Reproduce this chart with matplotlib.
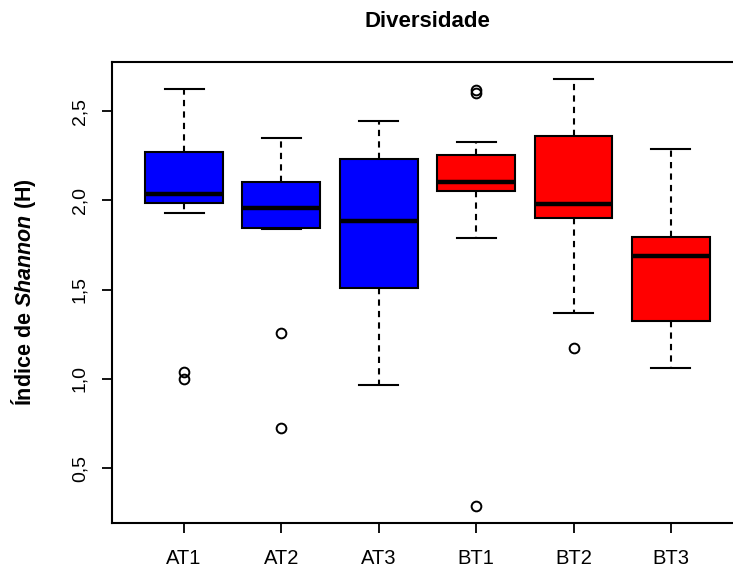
import matplotlib
matplotlib.use("Agg")
import matplotlib.pyplot as plt

# boxplot stats (R-style boxplot)
categories = ["AT1", "AT2", "AT3", "BT1", "BT2", "BT3"]
whislo = [1.93, 1.84, 0.965, 1.788, 1.368, 1.059]
q1 = [1.985, 1.844, 1.507, 2.052, 1.903, 1.325]
med = [2.038, 1.957, 1.884, 2.10, 1.981, 1.687]
q3 = [2.27, 2.10, 2.234, 2.253, 2.36, 1.794]
whishi = [2.626, 2.347, 2.446, 2.324, 2.678, 2.285]
outliers = [[1.04, 1.0], [1.255, 0.726], [], [2.62, 2.60, 0.287], [1.171], []]
box_colors = ["#0000FF", "#0000FF", "#0000FF", "#FF0000", "#FF0000", "#FF0000"]

yticks = [0.5, 1.0, 1.5, 2.0, 2.5]
ytick_labels = ["0,5", "1,0", "1,5", "2,0", "2,5"]

plt.rcParams["font.family"] = ["Liberation Sans", "DejaVu Sans"]
plt.rcParams["mathtext.fontset"] = "custom"
plt.rcParams["mathtext.it"] = "Liberation Sans:italic:bold"
plt.rcParams["mathtext.rm"] = "Liberation Sans:bold"

fig = plt.figure(figsize=(7.33, 5.72), dpi=100)
# right edge of the frame falls outside the picture, as in the reference
ax = fig.add_axes([0.1528, 0.0857, 0.8608, 0.8059])

stats = []
for i, name in enumerate(categories):
    stats.append({
        "label": name, "whislo": whislo[i], "q1": q1[i], "med": med[i],
        "q3": q3[i], "whishi": whishi[i], "fliers": outliers[i],
    })

positions = list(range(1, len(categories) + 1))
bp = ax.bxp(stats, positions=positions, widths=0.8, capwidths=0.4,
            patch_artist=True, showfliers=True,
            boxprops=dict(edgecolor="black", linewidth=1.5),
            medianprops=dict(color="black", linewidth=3.2, solid_capstyle="butt"),
            whiskerprops=dict(color="black", linewidth=1.5, linestyle=(0, (3, 2.5))),
            capprops=dict(color="black", linewidth=1.5),
            flierprops=dict(marker="o", markerfacecolor="none",
                            markeredgecolor="black", markersize=7,
                            markeredgewidth=1.4, linestyle="none"))
for patch, c in zip(bp["boxes"], box_colors):
    patch.set_facecolor(c)

ax.set_xlim(0.26, 6.74)
ax.set_ylim(0.192, 2.775)
ax.set_yticks(yticks)
ax.set_yticklabels(ytick_labels, rotation=90, va="center")
ax.set_xticks(positions)
ax.set_xticklabels(categories)

ax.tick_params(axis="both", direction="out", length=7.5, width=1.3,
               labelsize=14.5)
ax.tick_params(axis="x", pad=11)
ax.tick_params(axis="y", pad=9.5, labelsize=14)
for s in ax.spines.values():
    s.set_linewidth(1.5)

ax.set_ylabel(r"Índice de $Shannon$ (H)", fontsize=15.5, fontweight="bold")
ax.yaxis.set_label_coords(-0.118, 0.5)

fig.text(0.1528 + 0.8608 / 2, 0.962, "Diversidade", ha="center", va="center",
         fontsize=16, fontweight="bold")

fig.savefig("out.png", dpi=100)
